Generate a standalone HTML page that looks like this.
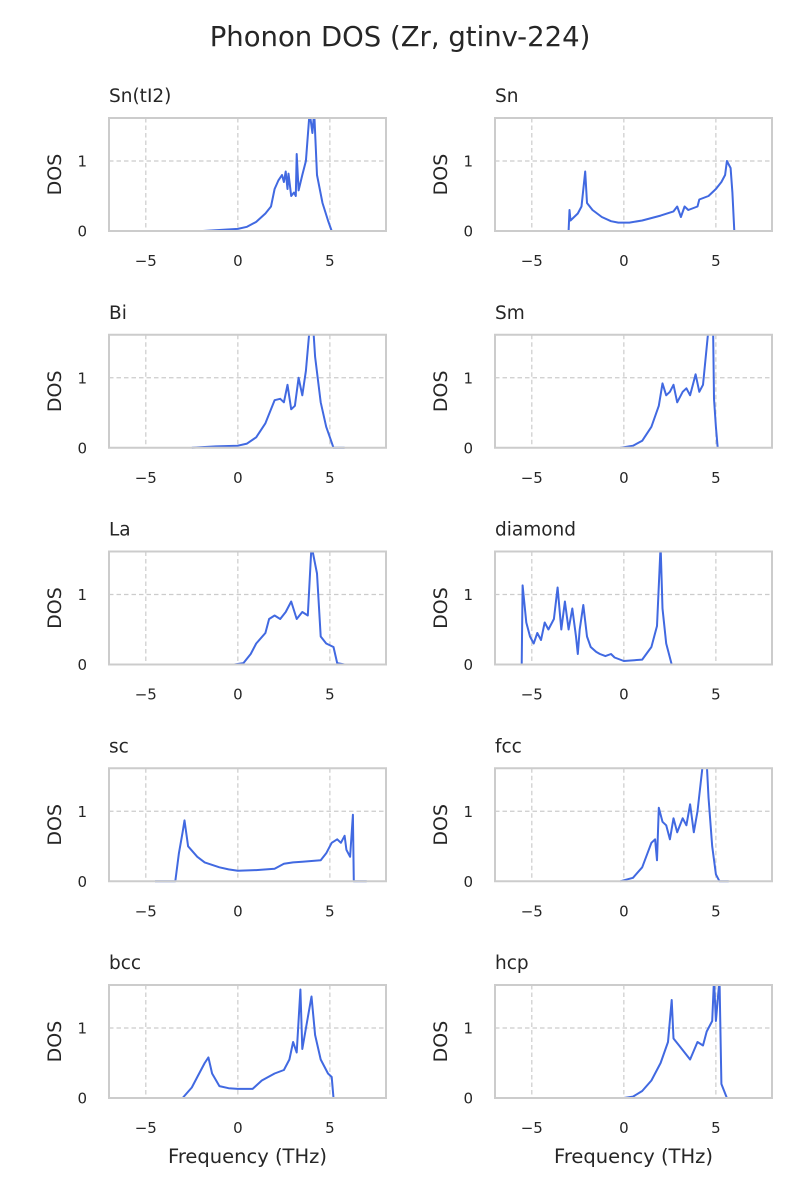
<!DOCTYPE html>
<html><head><meta charset="utf-8"><style>
body{margin:0;background:#fff;}
svg{display:block;font-family:"DejaVu Sans","Liberation Sans",sans-serif;}
</style></head><body>
<svg id="fig" width="800" height="1200" viewBox="0 0 800 1200">
<text x="400" y="46" text-anchor="middle" font-size="27.5" fill="#262626">Phonon DOS (Zr, gtinv-224)</text>
</svg>
<script>
const panelNames = ["Sn(tI2)","Sn","Bi","Sm","La","diamond","sc","fcc","bcc","hcp"];
const freqSnTI2 = [-1.9,0,0.5,1,1.5,1.8,2,2.2,2.4,2.5,2.6,2.7,2.75,2.9,3.05,3.15,3.2,3.3,3.5,3.7,3.9,4.05,4.15,4.3,4.6,4.9,5.1,5.8];
const dosSnTI2 = [0,0.03,0.06,0.13,0.25,0.35,0.6,0.72,0.8,0.7,0.85,0.6,0.82,0.5,0.55,0.5,1.1,0.58,0.8,1.0,1.7,1.4,1.7,0.8,0.4,0.15,0,0];
const freqSn = [-4.1,-3.0,-2.95,-2.9,-2.5,-2.3,-2.1,-2.0,-1.7,-1.2,-0.7,-0.3,0.3,1,2,2.7,2.9,3.1,3.3,3.5,4,4.1,4.6,5,5.3,5.5,5.6,5.8,5.9,6.0,6.3];
const dosSn = [0,0,0.3,0.15,0.25,0.35,0.85,0.4,0.3,0.2,0.14,0.12,0.12,0.15,0.22,0.28,0.35,0.2,0.35,0.3,0.35,0.45,0.5,0.6,0.7,0.8,1.0,0.9,0.55,0,0];
const freqBi = [-2.5,-1.2,0,0.5,1,1.5,1.8,2,2.3,2.5,2.7,2.9,3.1,3.3,3.5,3.7,3.9,4.1,4.2,4.5,4.8,5.0,5.2,5.8];
const dosBi = [0,0.02,0.03,0.06,0.15,0.35,0.55,0.68,0.7,0.65,0.9,0.55,0.6,1.0,0.75,1.1,1.7,1.7,1.3,0.65,0.3,0.15,0,0];
const freqSm = [-0.2,0.5,1,1.5,1.9,2.1,2.3,2.5,2.7,2.9,3.2,3.4,3.6,3.9,4.1,4.3,4.6,4.85,4.9,5.0,5.1];
const dosSm = [0,0.03,0.1,0.3,0.6,0.92,0.75,0.8,0.9,0.65,0.8,0.85,0.75,1.05,0.8,0.9,1.7,1.7,0.7,0.3,0];
const freqLa = [-0.2,0.3,0.7,1,1.5,1.7,2,2.3,2.6,2.9,3.2,3.5,3.8,4.0,4.3,4.5,4.8,5.2,5.4,5.8];
const dosLa = [0,0.02,0.15,0.3,0.45,0.65,0.7,0.65,0.75,0.9,0.65,0.75,0.7,1.7,1.3,0.4,0.3,0.25,0.02,0];
const freqDiamond = [-6.2,-5.55,-5.5,-5.3,-5.1,-4.9,-4.7,-4.5,-4.3,-4.1,-3.8,-3.6,-3.4,-3.2,-3.0,-2.8,-2.6,-2.5,-2.4,-2.2,-2.0,-1.8,-1.5,-1.3,-1.0,-0.7,-0.5,0,1,1.5,1.8,2.0,2.1,2.3,2.6,3.0];
const dosDiamond = [0,0,1.13,0.6,0.4,0.3,0.45,0.35,0.6,0.5,0.65,1.1,0.5,0.9,0.5,0.8,0.4,0.15,0.5,0.85,0.4,0.25,0.18,0.15,0.12,0.15,0.1,0.05,0.07,0.25,0.55,1.7,0.8,0.3,0,0];
const freqSc = [-4.5,-3.4,-3.2,-3.0,-2.9,-2.7,-2.2,-1.8,-1,-0.5,0,1,2,2.5,3,3.5,4.5,4.8,5.1,5.4,5.6,5.8,5.9,6.1,6.25,6.3,7];
const dosSc = [0,0,0.4,0.7,0.87,0.5,0.35,0.27,0.2,0.17,0.15,0.16,0.18,0.25,0.27,0.28,0.3,0.4,0.55,0.6,0.55,0.65,0.45,0.35,0.95,0,0];
const freqFcc = [-0.2,0.5,1,1.5,1.7,1.8,1.9,2.1,2.3,2.5,2.7,2.9,3.2,3.4,3.6,3.8,4.0,4.3,4.5,4.6,4.8,5.0,5.2,5.7];
const dosFcc = [0,0.05,0.2,0.55,0.6,0.3,1.05,0.85,0.8,0.6,0.9,0.7,0.9,0.8,1.1,0.7,1.0,1.7,1.7,1.2,0.5,0.1,0,0];
const freqBcc = [-3,-2.5,-2.2,-1.8,-1.6,-1.4,-1,-0.5,0,0.8,1.3,2,2.5,2.8,3.0,3.2,3.4,3.5,3.8,4.0,4.2,4.5,4.9,5.1,5.2,5.8];
const dosBcc = [0,0.15,0.3,0.5,0.58,0.35,0.17,0.14,0.13,0.13,0.25,0.35,0.4,0.55,0.8,0.65,1.55,0.7,1.15,1.45,0.9,0.55,0.35,0.3,0,0];
const freqHcp = [0,0.5,1,1.5,2,2.4,2.6,2.7,3,3.3,3.6,4,4.3,4.5,4.8,4.9,5.0,5.2,5.3,5.6,6.2];
const dosHcp = [0,0.02,0.1,0.25,0.5,0.8,1.4,0.85,0.75,0.65,0.55,0.8,0.75,0.95,1.1,1.7,1.1,1.7,0.2,0,0];
const panelFreqs = [freqSnTI2,freqSn,freqBi,freqSm,freqLa,freqDiamond,freqSc,freqFcc,freqBcc,freqHcp];
const panelDos = [dosSnTI2,dosSn,dosBi,dosSm,dosLa,dosDiamond,dosSc,dosFcc,dosBcc,dosHcp];
const xTicks = [-5,0,5];
const yTicks = [0,1];

const NS="http://www.w3.org/2000/svg";
const svg=document.getElementById('fig');
function mk(tag,attrs,parent){const e=document.createElementNS(NS,tag);for(const k in attrs)e.setAttribute(k,attrs[k]);(parent||svg).appendChild(e);return e;}
const XMIN=-7.0,XMAX=8.05,YMIN=0,YMAX=1.615;
const W=277,H=113;
for(let i=0;i<panelNames.length;i++){
  const col=i%2,row=Math.floor(i/2);
  const L=col?495:109, T=118+row*216.75;
  const sx=v=>L+(v-XMIN)/(XMAX-XMIN)*W;
  const sy=v=>T+H-(v-YMIN)/(YMAX-YMIN)*H;
  const g=mk('g',{});
  
  
  const cid='clip'+i;
  const cp=mk('clipPath',{id:cid},g);mk('rect',{x:L,y:T,width:W,height:H+3},cp);
  xTicks.forEach(t=>{
    const l=mk('line',{x1:sx(t),x2:sx(t),y1:T,y2:T+H,stroke:'#cccccc','stroke-width':1.2,'stroke-dasharray':'4.5,3'},g);
    
    
    const tx=mk('text',{x:sx(t),y:T+H+35,'text-anchor':'middle','font-size':15,fill:'#262626'},g);
    tx.textContent=(t<0?'\u2212'+(-t):String(t));
    
    
  });
  yTicks.forEach(t=>{
    const l=mk('line',{x1:L,x2:L+W,y1:sy(t),y2:sy(t),stroke:'#cccccc','stroke-width':1.2,'stroke-dasharray':'4.5,3'},g);
    
    
    const tx=mk('text',{x:L-22,y:sy(t)+5.5,'text-anchor':'end','font-size':15,fill:'#262626'},g);
    tx.textContent=String(t);
    
    
  });
  const fx=panelFreqs[i],fy=panelDos[i];
  let d='';
  for(let k=0;k<fx.length;k++)d+=(k?'L':'M')+sx(fx[k]).toFixed(1)+','+sy(fy[k]).toFixed(1);
  const p=mk('path',{d:d,fill:'none',stroke:'#4169e1','stroke-width':2,'stroke-linejoin':'round','clip-path':'url(#'+cid+')'},g);
  
  
  const fr=mk('rect',{x:L,y:T,width:W,height:H,fill:'none',stroke:'#cccccc','stroke-width':2},g);
  
  
  const ti=mk('text',{x:L,y:T-16,'font-size':18.5,fill:'#262626'},g);
  ti.textContent=panelNames[i];
  
  
  const yl=mk('text',{x:0,y:0,'font-size':19,fill:'#262626','text-anchor':'middle',transform:'translate('+(L-48)+','+(T+H/2)+') rotate(-90)'},g);
  yl.textContent='DOS';
  
  
  if(row===4){
    const xl=mk('text',{x:L+W/2,y:T+H+65,'font-size':19.5,fill:'#262626','text-anchor':'middle'},g);
    xl.textContent='Frequency (THz)';
    
    
  }
}
</script>
</body></html>
